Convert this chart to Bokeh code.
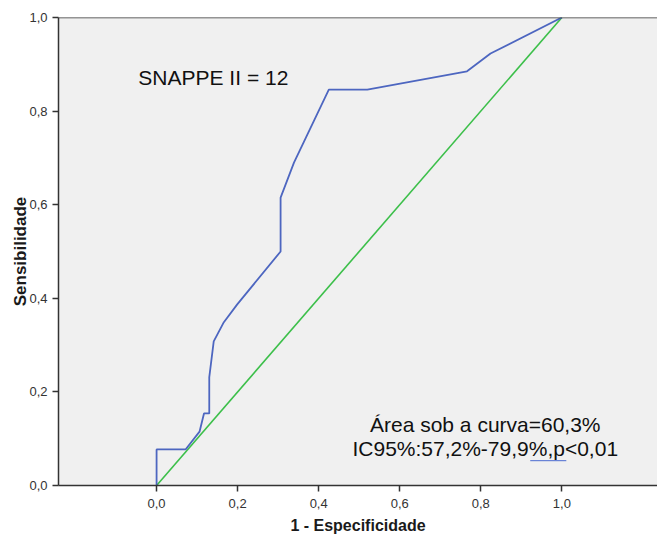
from bokeh.plotting import figure
from bokeh.models import Range1d, FixedTicker, Span
from bokeh.core.properties import value
from bokeh.embed import file_html
from bokeh.resources import INLINE

# ROC curve (1 - specificity, sensitivity)
fpr = [0.0, 0.0, 0.0715, 0.106, 0.117, 0.130, 0.130, 0.141, 0.166, 0.199,
       0.306, 0.306, 0.339, 0.425, 0.520, 0.766, 0.824, 1.0]
tpr = [0.0, 0.077, 0.077, 0.115, 0.154, 0.154, 0.231, 0.308, 0.349, 0.387,
       0.500, 0.615, 0.690, 0.846, 0.846, 0.885, 0.923, 1.0]

# reference (chance) line
ref_x = [0.0, 1.0]
ref_y = [0.0, 1.0]

tick_values = [0.0, 0.2, 0.4, 0.6, 0.8, 1.0]
tick_labels = ["0,0", "0,2", "0,4", "0,6", "0,8", "1,0"]

title_text = "SNAPPE II = 12"
auc_lines = ["Área sob a curva=60,3%", "IC95%:57,2%-79,9%,p<0,01"]
x_title = "1 - Especificidade"
y_title = "Sensibilidade"

FONT = "Liberation Sans"
X_LO, X_HI = -0.242, 1.236

p = figure(width=657, height=538,
           x_range=Range1d(X_LO, X_HI), y_range=Range1d(0.0, 1.0),
           output_backend="svg", toolbar_location=None,
           min_border_left=58, min_border_right=0,
           min_border_top=17, min_border_bottom=53)

p.background_fill_color = "#f0f0f0"
p.border_fill_color = "white"
p.outline_line_color = None
p.xgrid.visible = False
p.ygrid.visible = False

overrides = {v: l for v, l in zip(tick_values, tick_labels)}
for ax in (p.xaxis[0], p.yaxis[0]):
    ax.ticker = FixedTicker(ticks=tick_values)
    ax.major_label_overrides = overrides
    ax.minor_tick_line_color = None
    ax.major_tick_in = 0
    ax.major_tick_out = 6
    ax.major_tick_line_color = "#333333"
    ax.major_tick_line_width = 1.5
    ax.axis_line_color = "#333333"
    ax.axis_line_width = 1.5
    ax.major_label_text_font = FONT
    ax.major_label_text_font_size = "13px"
    ax.major_label_text_color = "#333333"
    ax.axis_label_text_font = FONT
    ax.axis_label_text_font_style = "bold"
    ax.axis_label_text_color = "#1a1a1a"

p.xaxis[0].major_label_standoff = 7
p.xaxis[0].axis_label = x_title
p.xaxis[0].axis_label_text_font_size = "16px"
p.xaxis[0].axis_label_standoff = 6

p.yaxis[0].major_label_standoff = 5
p.yaxis[0].axis_label = y_title
p.yaxis[0].axis_label_text_font_size = "17px"
p.yaxis[0].axis_label_standoff = -4

# top border of the plot area
p.add_layout(Span(location=1.0, dimension="width", line_color="#333333", line_width=1.5))

p.line(ref_x, ref_y, line_color="#3cbf4a", line_width=1.6)
p.line(fpr, tpr, line_color="#4d66c0", line_width=1.8)

p.text(x=[-0.045], y=[0.871], text=[title_text], text_font=value(FONT),
       text_font_size="21px", text_color="#111111",
       text_align="left", text_baseline="alphabetic")

p.text(x=[0.811, 0.811], y=[0.131, 0.080], text=auc_lines, text_font=value(FONT),
       text_font_size="21px", text_color="#111111",
       text_align="center", text_baseline="alphabetic")

# small blue underline under "%,p"
p.line([0.922, 1.011], [0.053, 0.053], line_color="#4a6bd0", line_width=1)

open("out.html", "w").write(file_html(p, INLINE))
